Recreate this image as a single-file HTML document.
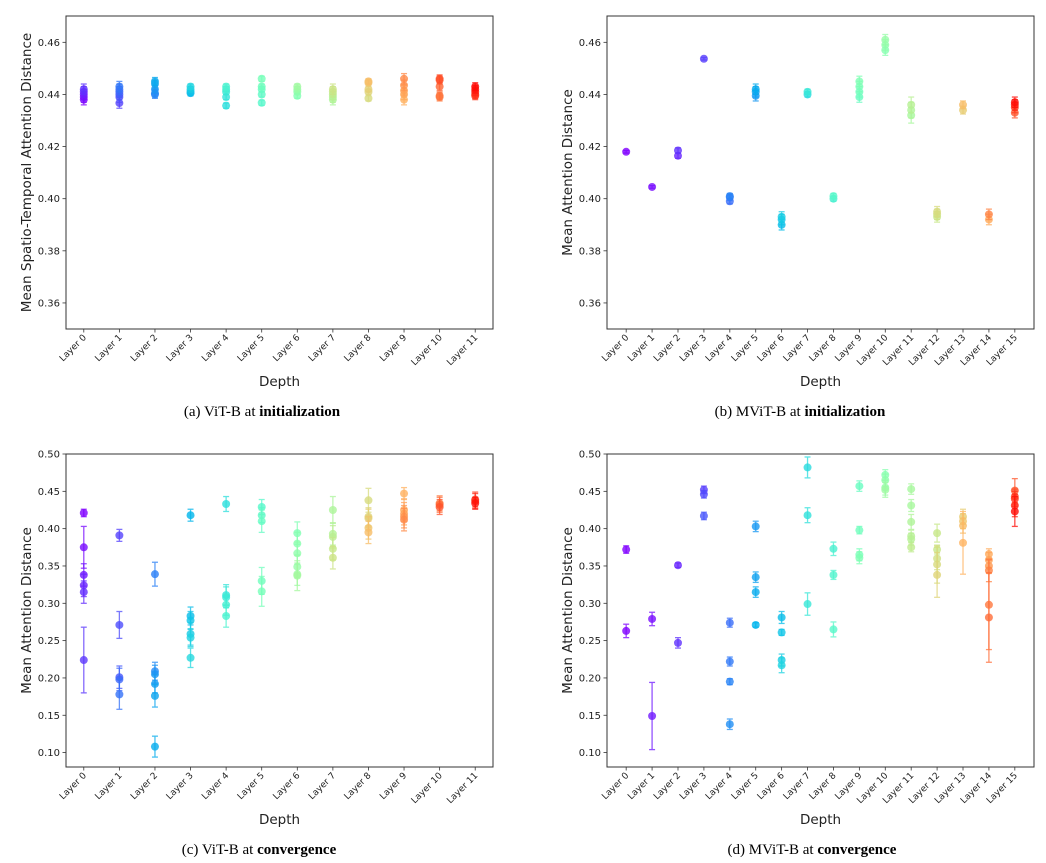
<!DOCTYPE html>
<html><head><meta charset="utf-8"><style>
body{margin:0;background:#fff;}
svg{display:block;font-family:"DejaVu Sans","Liberation Sans",sans-serif;}
.cap{font-family:"Liberation Serif",serif;font-size:15px;}
</style></head><body>
<svg id="fig" width="1046" height="863" viewBox="0 0 1046 863"></svg>
<script>
// Panel (a) ViT-B init
const aVals=[[0.438,0.439,0.440,0.441,0.442],[0.4367,0.439,0.440,0.441,0.442,0.443],[0.440,0.4405,0.442,0.444,0.445],[0.4405,0.441,0.442,0.443],[0.4357,0.439,0.441,0.442,0.443],[0.4368,0.440,0.442,0.443,0.446],[0.4395,0.441,0.442,0.443],[0.438,0.439,0.440,0.441,0.442],[0.4385,0.441,0.442,0.4445,0.445],[0.438,0.440,0.4415,0.4435,0.446],[0.439,0.4395,0.443,0.4455,0.446],[0.4395,0.440,0.441,0.442,0.443]];
const aErrs=[0.002,0.002,0.0015,0.001,0.001,0.001,0.001,0.002,0.001,0.002,0.0015,0.0015];
// Panel (b) MViT-B init
const bVals=[[0.418],[0.4045],[0.4165,0.4185],[0.4537],[0.399,0.4005,0.401],[0.4395,0.441,0.442],[0.390,0.392,0.393],[0.440,0.441],[0.400,0.401],[0.439,0.441,0.443,0.445],[0.457,0.459,0.461],[0.432,0.434,0.436],[0.393,0.394,0.395],[0.434,0.436],[0.392,0.394],[0.433,0.435,0.436,0.437]];
const bErrs=[0.0005,0.0005,0.001,0.0005,0.001,0.002,0.002,0.001,0.001,0.002,0.002,0.003,0.002,0.0015,0.002,0.002];
// Panel (c) ViT-B convergence
const cVals=[[0.421,0.375,0.338,0.324,0.315,0.224],[0.391,0.271,0.201,0.198,0.178],[0.339,0.209,0.205,0.192,0.176,0.108],[0.418,0.283,0.277,0.259,0.254,0.227],[0.433,0.311,0.308,0.298,0.283],[0.429,0.418,0.410,0.330,0.316],[0.394,0.380,0.367,0.349,0.339,0.337],[0.425,0.393,0.389,0.373,0.361],[0.438,0.416,0.414,0.401,0.395],[0.447,0.425,0.420,0.416,0.412],[0.434,0.432,0.429],[0.439,0.437,0.434]];
const cErrs=[[0.005,0.028,0.015,0.015,0.015,0.044],[0.008,0.018,0.015,0.015,0.02],[0.016,0.012,0.012,0.012,0.015,0.014],[0.008,0.012,0.012,0.015,0.012,0.013],[0.01,0.014,0.014,0.014,0.015],[0.01,0.01,0.015,0.018,0.02],[0.015,0.015,0.015,0.015,0.015,0.02],[0.018,0.015,0.015,0.015,0.015],[0.016,0.012,0.012,0.015,0.015],[0.008,0.015,0.015,0.015,0.015],[0.01,0.01,0.01],[0.01,0.01,0.008]];
// Panel (d) MViT-B convergence
const dVals=[[0.372,0.263],[0.279,0.149],[0.351,0.247],[0.452,0.446,0.417],[0.274,0.222,0.195,0.138],[0.403,0.335,0.315,0.271],[0.281,0.261,0.224,0.217],[0.482,0.418,0.299],[0.373,0.338,0.265],[0.457,0.398,0.365,0.361],[0.472,0.465,0.455,0.452],[0.453,0.431,0.409,0.390,0.386,0.375],[0.394,0.372,0.360,0.352,0.338],[0.416,0.410,0.404,0.381],[0.366,0.358,0.350,0.344,0.298,0.281],[0.451,0.443,0.440,0.431,0.423]];
const dErrs=[[0.005,0.009],[0.009,0.045],[0.003,0.007],[0.005,0.005,0.005],[0.006,0.006,0.004,0.007],[0.007,0.007,0.007,0.003],[0.008,0.004,0.008,0.01],[0.014,0.01,0.015],[0.009,0.006,0.01],[0.007,0.005,0.008,0.008],[0.007,0.008,0.01,0.01],[0.007,0.008,0.01,0.008,0.008,0.006],[0.012,0.006,0.015,0.025,0.03],[0.01,0.01,0.01,0.042],[0.007,0.01,0.01,0.015,0.06,0.06],[0.016,0.01,0.01,0.015,0.02]];
// heads per layer (drives colormap index)
const vitHeads=[12,12,12,12,12,12,12,12,12,12,12,12];
const mvitHeads=[1,2,2,4,4,4,4,4,4,4,4,4,4,4,8,8];
const initTicks=[0.36,0.38,0.40,0.42,0.44,0.46];
const convTicks=[0.10,0.15,0.20,0.25,0.30,0.35,0.40,0.45,0.50];

const NS="http://www.w3.org/2000/svg";
const svg=document.getElementById('fig');
function mk(tag,attrs,parent){const e=document.createElementNS(NS,tag);for(const k in attrs)e.setAttribute(k,attrs[k]);(parent||svg).appendChild(e);return e;}
function rainbow(t){const c=v=>Math.round(Math.max(0,Math.min(1,v))*255);return `rgb(${c(Math.abs(2*t-0.5))},${c(Math.sin(Math.PI*t))},${c(Math.cos(Math.PI*t/2))})`;}

function panel(id,L,R,T,B,ymin,ymax,ticks,vals,errs,heads,ylabel,caption,capY){
  const g=mk('g',{});
  
  
  const n=vals.length;
  const total=heads.reduce((s,h)=>s+h,0);
  const pad=n===16?0.24:0;
  const xs=i=>L+(R-L)*((i+0.5+pad)/(n+2*pad));
  const ys=v=>B-(v-ymin)/(ymax-ymin)*(B-T);
  ticks.forEach(t=>{const y=ys(t);
    mk('line',{x1:L-3.5,x2:L,y1:y,y2:y,stroke:'#333','stroke-width':0.8},g);
    const tx=mk('text',{x:L-6,y:y+3.5,'text-anchor':'end','font-size':10,fill:'#222'},g);tx.textContent=t.toFixed(2);
    
    
  });
  let start=0;
  for(let i=0;i<n;i++){const x=xs(i);
    mk('line',{x1:x,x2:x,y1:B,y2:B+3.5,stroke:'#333','stroke-width':0.8},g);
    const tx=mk('text',{x:x+3,y:B+9,'text-anchor':'end','font-size':9,fill:'#222',transform:`rotate(-45 ${x+3} ${B+9})`},g);
    tx.textContent='Layer '+i;
    
    
    const np=vals[i].length;
    vals[i].forEach((v,j)=>{
      const idx=start+Math.floor(j*heads[i]/np);
      const col=rainbow(idx/(total-1));
      const e=Array.isArray(errs[i])?errs[i][j]:errs[i];
      const y1=ys(v-e),y2=ys(v+e);
      const eb=mk('g',{stroke:col,'stroke-width':1.3,opacity:0.75},g);
      
      
      mk('line',{x1:x,x2:x,y1:y1,y2:y2},eb);
      mk('line',{x1:x-3,x2:x+3,y1:y1,y2:y1},eb);
      mk('line',{x1:x-3,x2:x+3,y1:y2,y2:y2},eb);
      const c=mk('circle',{cx:x,cy:ys(v),r:4,fill:col,'fill-opacity':0.8},g);
      
      
    });
    start+=heads[i];
  }
  const fr=mk('rect',{x:L,y:T,width:R-L,height:B-T,fill:'none',stroke:'#333','stroke-width':1},g);
  
  
  const xl=mk('text',{x:(L+R)/2,y:B+57,'text-anchor':'middle','font-size':13.5,fill:'#222'},g);xl.textContent='Depth';
  
  
  const yx=ylabel[1],ym=(T+B)/2;
  const yl=mk('text',{x:yx,y:ym,'text-anchor':'middle','font-size':13.5,fill:'#222',transform:`rotate(-90 ${yx} ${ym})`},g);yl.textContent=ylabel[0];
  
  
  const cp=mk('text',{x:caption[1],y:capY,'text-anchor':'middle',class:'cap',fill:'#000'},g);
  cp.innerHTML=caption[0];
  
  
}
panel('vit-init',66,493,16,329,0.35,0.4701,initTicks,aVals,aErrs,vitHeads,['Mean Spatio-Temporal Attention Distance',31],['(a)  ViT-B at <tspan font-weight="bold">initialization</tspan>',262],416);
panel('mvit-init',607,1034,16,329,0.35,0.4701,initTicks,bVals,bErrs,mvitHeads,['Mean Attention Distance',572],['(b)  MViT-B at <tspan font-weight="bold">initialization</tspan>',800],416);
panel('vit-conv',66,493,454,767,0.0807,0.50,convTicks,cVals,cErrs,vitHeads,['Mean Attention Distance',31],['(c)  ViT-B at <tspan font-weight="bold">convergence</tspan>',259],854);
panel('mvit-conv',607,1034,454,767,0.0807,0.50,convTicks,dVals,dErrs,mvitHeads,['Mean Attention Distance',572],['(d)  MViT-B at <tspan font-weight="bold">convergence</tspan>',812],854);
</script>
</body></html>
